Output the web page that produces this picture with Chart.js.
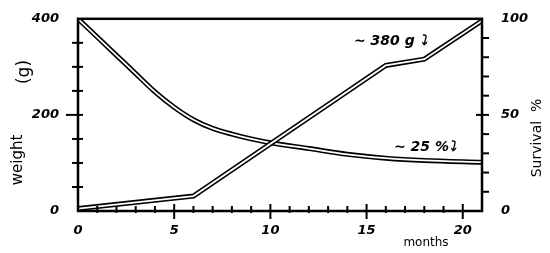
<!DOCTYPE html>
<html>
<head>
<meta charset="utf-8">
<script src="https://cdn.jsdelivr.net/npm/chart.js@4"></script>
<style>
  html, body { margin: 0; padding: 0; background: #fff; }
  #wrap { width: 550px; height: 253px; }
</style>
</head>
<body>
<div id="wrap"><canvas id="chart" width="550" height="253"></canvas></div>
<script>
/* ── DATA ── */
const weightMonths   = [0, 6, 16, 18, 21];
const weightValues   = [5, 31, 303, 316, 396];          // grams (left axis)
const survivalMonths = [0, 1, 2, 3, 4, 5, 6, 7, 8, 9, 10, 12, 14, 16, 18, 21];
const survivalValues = [100, 90.5, 81, 71.5, 62, 54, 47.5, 43, 40, 37.5, 35.5, 32.5, 29.5, 27.5, 26.3, 25.4]; // % (right axis)
const monthTicks  = [0, 5, 10, 15, 20];
const weightTicks = [0, 200, 400];
const survTicks   = [0, 50, 100];

const toXY = (xs, ys) => xs.map((x, i) => ({ x: x, y: ys[i] }));
const numFont = { family: "DejaVu Sans", size: 13, style: "italic", weight: "bold" };

/* ── double-stroke line: black wide line with a thin white core on top ── */
function doubleLine(data, axis, order, tension) {
    const base = { data: data, yAxisID: axis, pointRadius: 0, fill: false, tension: tension,
                   cubicInterpolationMode: tension ? "monotone" : "default" };
    return [
        Object.assign({}, base, { borderColor: "#000", borderWidth: 5, order: order + 1 }),
        Object.assign({}, base, { borderColor: "#fff", borderWidth: 1.8, order: order })
    ];
}

/* ── frame, crossing tick marks and hand labels ── */
const sketchPlugin = {
    id: "sketch",
    afterDraw(chart) {
        const { ctx, chartArea: a, scales } = chart;
        ctx.save();
        ctx.strokeStyle = "#000";
        ctx.lineCap = "square";

        // ticks
        ctx.lineWidth = 2;
        scales.y.ticks.forEach(t => {
            if (t.value <= 0 || t.value >= 400) return;
            const py = scales.y.getPixelForValue(t.value);
            const major = weightTicks.includes(t.value);
            ctx.beginPath(); ctx.moveTo(a.left - (major ? 11 : 5), py); ctx.lineTo(a.left + 4, py); ctx.stroke();
        });
        scales.y2.ticks.forEach(t => {
            if (t.value <= 0 || t.value >= 100) return;
            const py = scales.y2.getPixelForValue(t.value);
            const major = survTicks.includes(t.value);
            ctx.beginPath(); ctx.moveTo(a.right - (major ? 5 : 0), py); ctx.lineTo(a.right + 6, py); ctx.stroke();
        });
        scales.x.ticks.forEach(t => {
            if (t.value <= 0 || t.value >= 21) return;
            const px = scales.x.getPixelForValue(t.value);
            const major = monthTicks.includes(t.value);
            ctx.beginPath(); ctx.moveTo(px, a.bottom - (major ? 6 : 4)); ctx.lineTo(px, a.bottom + (major ? 7 : 1)); ctx.stroke();
        });

        // frame
        ctx.lineWidth = 2.5;
        ctx.strokeRect(a.left, a.top, a.right - a.left, a.bottom - a.top);

        // axis titles
        ctx.fillStyle = "#000";
        ctx.textAlign = "center";
        ctx.textBaseline = "middle";
        const rot = (txt, x, y, font) => {
            ctx.save(); ctx.translate(x, y); ctx.rotate(-Math.PI / 2);
            ctx.font = font; ctx.fillText(txt, 0, 0); ctx.restore();
        };
        rot("weight", 18, 160, "15px 'DejaVu Sans'");
        rot("(g)", 25, 72, "17px 'DejaVu Sans'");
        rot("Survival  %", 537, 138, "14px 'DejaVu Sans'");
        ctx.font = "12px 'DejaVu Sans'";
        ctx.fillText("months", 426, 243);

        // annotations
        ctx.font = "italic bold 14px 'DejaVu Sans'";
        ctx.textAlign = "left";
        ctx.fillText("~ 380 g \u2935", 354, 41);
        ctx.fillText("~ 25 %\u2935", 394, 147);
        ctx.restore();
    }
};

new Chart(document.getElementById("chart"), {
    type: "line",
    data: {
        datasets: [
            ...doubleLine(toXY(survivalMonths, survivalValues), "y2", 3, 0.4),
            ...doubleLine(toXY(weightMonths, weightValues), "y", 1, 0)
        ]
    },
    options: {
        responsive: false,
        animation: false,
        layout: { padding: { top: 14 } },
        plugins: { legend: { display: false }, tooltip: { enabled: false } },
        scales: {
            x: {
                type: "linear", min: 0, max: 21,
                grid: { display: false }, border: { display: false },
                ticks: { stepSize: 1, autoSkip: false, maxRotation: 0, padding: 4, color: "#000", font: numFont,
                         callback: v => monthTicks.includes(v) ? String(v) : "" },
                afterFit: s => { s.height = 42; }
            },
            y: {
                position: "left", min: 0, max: 400,
                grid: { display: false }, border: { display: false },
                ticks: { stepSize: 50, autoSkip: false, padding: 11, color: "#000", font: numFont,
                         callback: v => weightTicks.includes(v) ? String(v) : "" },
                afterFit: s => { s.width = 78; }
            },
            y2: {
                position: "right", min: 0, max: 100,
                grid: { display: false }, border: { display: false },
                ticks: { stepSize: 10, autoSkip: false, padding: 11, color: "#000", font: numFont,
                         callback: v => survTicks.includes(v) ? String(v) : "" },
                afterFit: s => { s.width = 68; }
            }
        }
    },
    plugins: [sketchPlugin]
});
</script>
</body>
</html>
